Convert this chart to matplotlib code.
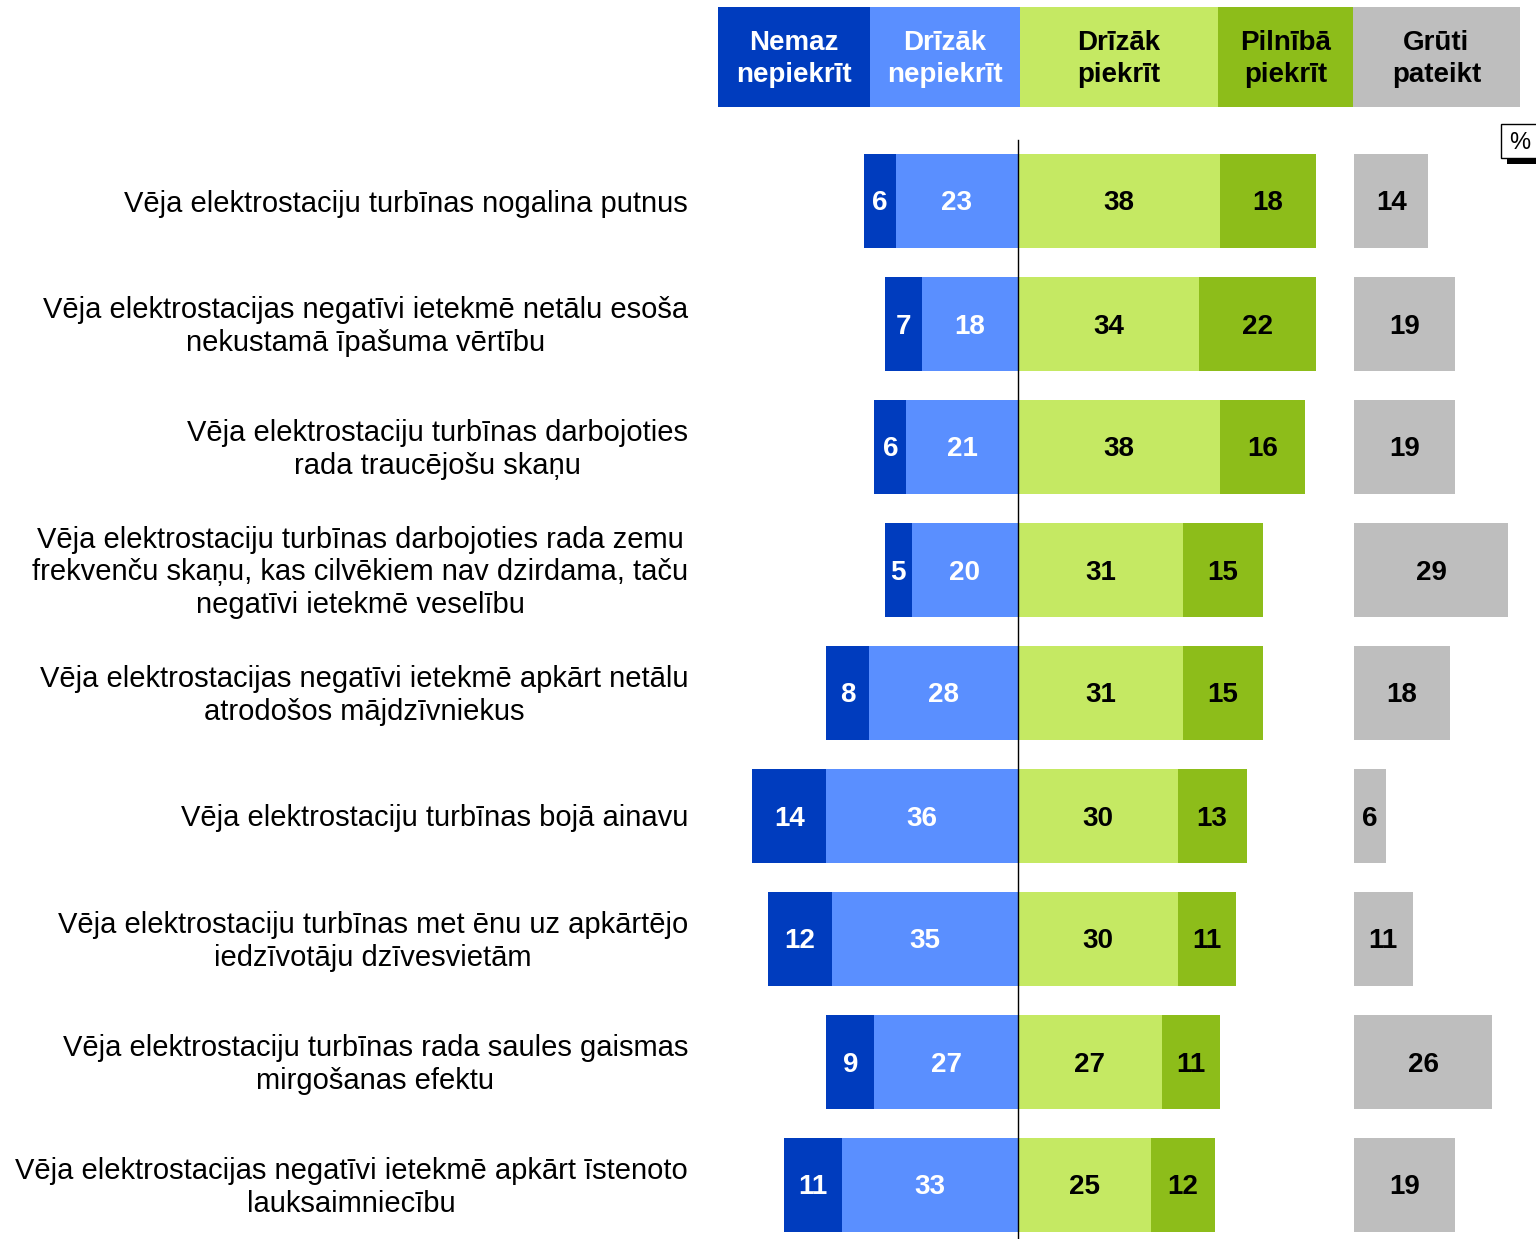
import numpy as np
import matplotlib.pyplot as plt
from matplotlib.patches import Rectangle

plt.rcParams['font.family'] = ['Liberation Sans', 'DejaVu Sans']

statements = [
    "Vēja elektrostaciju turbīnas nogalina putnus",
    "Vēja elektrostacijas negatīvi ietekmē netālu esoša\nnekustamā īpašuma vērtību",
    "Vēja elektrostaciju turbīnas darbojoties\nrada traucējošu skaņu",
    "Vēja elektrostaciju turbīnas darbojoties rada zemu\nfrekvenču skaņu, kas cilvēkiem nav dzirdama, taču\nnegatīvi ietekmē veselību",
    "Vēja elektrostacijas negatīvi ietekmē apkārt netālu\natrodošos mājdzīvniekus",
    "Vēja elektrostaciju turbīnas bojā ainavu",
    "Vēja elektrostaciju turbīnas met ēnu uz apkārtējo\niedzīvotāju dzīvesvietām",
    "Vēja elektrostaciju turbīnas rada saules gaismas\nmirgošanas efektu",
    "Vēja elektrostacijas negatīvi ietekmē apkārt īstenoto\nlauksaimniecību",
]
nemaz = [6, 7, 6, 5, 8, 14, 12, 9, 11]
drizak_ne = [23, 18, 21, 20, 28, 36, 35, 27, 33]
drizak_pie = [38, 34, 38, 31, 31, 30, 30, 27, 25]
pilniba = [18, 22, 16, 15, 15, 13, 11, 11, 12]
gruti = [14, 19, 19, 29, 18, 6, 11, 26, 19]

headers = ["Nemaz\nnepiekrīt", "Drīzāk\nnepiekrīt", "Drīzāk\npiekrīt", "Pilnībā\npiekrīt", "Grūti\npateikt"]
colors = ["#003cbe", "#5a8fff", "#c5e963", "#8dbd1a", "#bebebe"]
text_colors = ["white", "white", "black", "black", "black"]

W, H = 1536, 1239
fig = plt.figure(figsize=(W / 100, H / 100), dpi=100)
ax = fig.add_axes([0, 0, 1, 1])
ppu = 5.32          # pixels per percent
cx = 1018           # centre line pixel
ax.set_xlim(-cx / ppu, (W - cx) / ppu)
ax.set_ylim((H - 201) / 123, -201 / 123)
ax.axis('off')

y = np.arange(len(statements))
h = 94 / 123
gray_off = (1354 - cx) / ppu
dy = 2.5 / 123      # small nudge so text sits on the bar centre

n = np.array(nemaz); dn = np.array(drizak_ne)
dp = np.array(drizak_pie); p = np.array(pilniba); g = np.array(gruti)

segments = [
    (-(n + dn), n, 0),
    (-dn, dn, 1),
    (np.zeros_like(dp), dp, 2),
    (dp, p, 3),
    (np.full_like(g, 0) + gray_off, g, 4),
]
for left, width, ci in segments:
    ax.barh(y, width, left=left, height=h, color=colors[ci], edgecolor='none')
    for yi, l, w in zip(y, left, width):
        ax.text(l + w / 2, yi + dy, str(w), ha='center', va='center', fontsize=20,
                fontweight='bold', color=text_colors[ci])

ax.plot([0, 0], [-0.5, (H - 201) / 123], color='black', lw=1)

for yi, s in zip(y, statements):
    ax.text(-(cx - 688) / ppu, yi + dy, s, ha='right', va='center', fontsize=21,
            linespacing=1.22, multialignment='center')

# header boxes
edges = [718, 870, 1020, 1218, 1353, 1520]
for i in range(5):
    x0 = edges[i] / W
    w = (edges[i + 1] - edges[i]) / W
    fig.patches.append(Rectangle((x0, 1 - 107 / H), w, 100 / H, transform=fig.transFigure,
                                 facecolor=colors[i], edgecolor='none'))
    fig.text(x0 + w / 2, 1 - 59 / H, headers[i], ha='center', va='center', fontsize=20,
             fontweight='bold', color=text_colors[i], linespacing=1.3)

# percent box
fig.patches.append(Rectangle((1507 / W, 1 - 164 / H), 40 / W, 8 / H, transform=fig.transFigure,
                             facecolor='black', edgecolor='none'))
fig.patches.append(Rectangle((1501 / W, 1 - 158 / H), 40 / W, 34 / H, transform=fig.transFigure,
                             facecolor='white', edgecolor='black', lw=1))
fig.text(1520 / W, 1 - 143 / H, "%", ha='center', va='center', fontsize=17)

fig.savefig("out.png", dpi=100)
